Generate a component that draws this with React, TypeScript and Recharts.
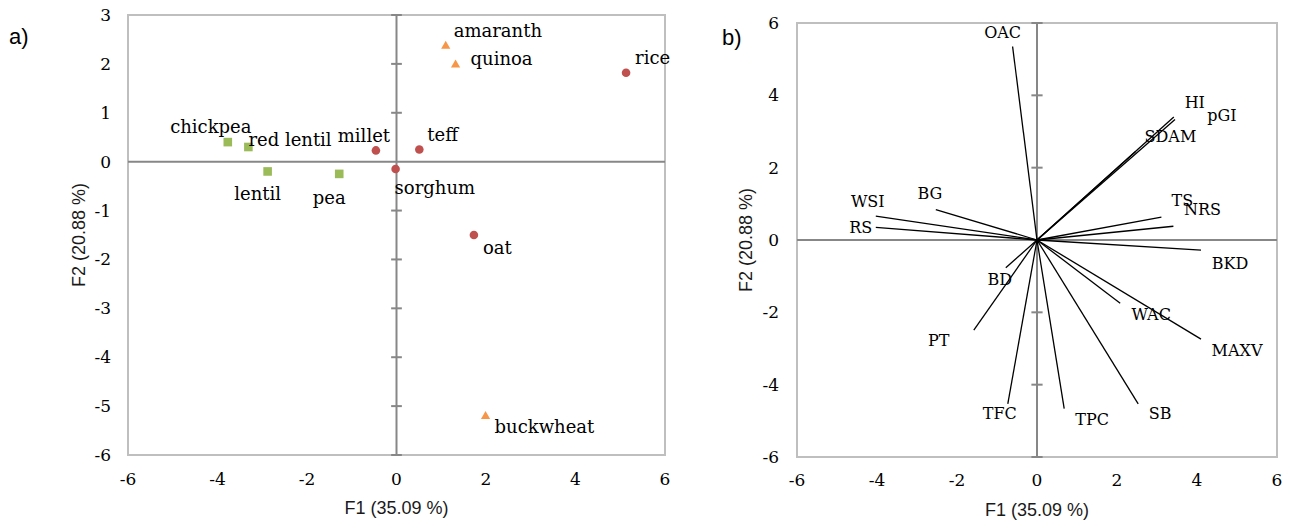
import React from 'react';
import { ScatterChart, Scatter, XAxis, YAxis, ReferenceLine, ReferenceArea } from 'recharts';

// ---------- data ----------
const f1Ticks = [-6, -4, -2, 0, 2, 4, 6];
const scoreF2Ticks = [3, 2, 1, 0, -1, -2, -3, -4, -5, -6];
const loadingF2Ticks = [-6, -4, -2, 0, 2, 4, 6];

const xTitle = 'F1 (35.09 %)';
const yTitle = 'F2 (20.88 %)';

const cereals = [
  { name: 'millet', f1: -0.46, f2: 0.23 },
  { name: 'teff', f1: 0.51, f2: 0.25 },
  { name: 'sorghum', f1: -0.02, f2: -0.15 },
  { name: 'oat', f1: 1.73, f2: -1.5 },
  { name: 'rice', f1: 5.13, f2: 1.82 },
];
const pseudocereals = [
  { name: 'amaranth', f1: 1.1, f2: 2.37 },
  { name: 'quinoa', f1: 1.32, f2: 1.99 },
  { name: 'buckwheat', f1: 1.99, f2: -5.2 },
];
const legumes = [
  { name: 'chickpea', f1: -3.77, f2: 0.4 },
  { name: 'red lentil', f1: -3.31, f2: 0.3 },
  { name: 'lentil', f1: -2.88, f2: -0.2 },
  { name: 'pea', f1: -1.28, f2: -0.25 },
];

const variables = [
  { name: 'OAC', f1: -0.61, f2: 5.35 },
  { name: 'HI', f1: 3.42, f2: 3.4 },
  { name: 'pGI', f1: 3.45, f2: 3.33 },
  { name: 'SDAM', f1: 2.46, f2: 2.44 },
  { name: 'WSI', f1: -4.03, f2: 0.66 },
  { name: 'RS', f1: -4.03, f2: 0.35 },
  { name: 'BG', f1: -2.53, f2: 0.84 },
  { name: 'TS', f1: 3.11, f2: 0.63 },
  { name: 'NRS', f1: 3.41, f2: 0.38 },
  { name: 'BKD', f1: 4.1, f2: -0.28 },
  { name: 'BD', f1: -0.78, f2: -0.77 },
  { name: 'WAC', f1: 2.08, f2: -1.75 },
  { name: 'PT', f1: -1.58, f2: -2.49 },
  { name: 'MAXV', f1: 4.1, f2: -2.74 },
  { name: 'TFC', f1: -0.73, f2: -4.53 },
  { name: 'TPC', f1: 0.68, f2: -4.66 },
  { name: 'SB', f1: 2.53, f2: -4.53 },
];

// ---------- label placement (pixels relative to mark) ----------
type Place = [number, number, 'start' | 'middle' | 'end'];
const scoreLabelPlace: Record<string, Place> = {
  amaranth: [8, -15, 'start'],
  quinoa: [15, -6, 'start'],
  rice: [9, -15, 'start'],
  chickpea: [-17, -15, 'middle'],
  'red lentil': [0, -7, 'start'],
  millet: [-12, -15, 'middle'],
  teff: [8, -15, 'start'],
  lentil: [-10, 22, 'middle'],
  pea: [-10, 24, 'middle'],
  sorghum: [-1, 19, 'start'],
  oat: [9, 13, 'start'],
  buckwheat: [9, 11, 'start'],
};
const loadingLabelPlace: Record<string, Place> = {
  OAC: [-10, -14, 'middle'],
  HI: [21, -15, 'middle'],
  pGI: [47, -4, 'middle'],
  SDAM: [35, -15, 'middle'],
  WSI: [-8, -15, 'middle'],
  RS: [-15, 0, 'middle'],
  BG: [-6, -16, 'middle'],
  TS: [21, -17, 'middle'],
  NRS: [29, -17, 'middle'],
  BKD: [29, 13, 'middle'],
  BD: [-6, 12, 'middle'],
  WAC: [31, 11, 'middle'],
  PT: [-35, 10, 'middle'],
  MAXV: [36, 11, 'middle'],
  TFC: [-8, 10, 'middle'],
  TPC: [28, 11, 'middle'],
  SB: [22, 10, 'middle'],
};

// ---------- styles ----------
const SERIF = "'DejaVu Serif', serif";
const SANS = "'Liberation Sans', Arial, sans-serif";
const BORDER = '#bfbfbf';
const AXIS = '#878787';
const RED = '#c0504d';
const GREEN = '#9bbb59';
const ORANGE = '#f79646';

const pointLabel = (cx: number, cy: number, name: string, place: Place, size: number) => (
  <text
    x={cx + place[0]}
    y={cy + place[1]}
    dy="0.35em"
    textAnchor={place[2]}
    fontFamily={SERIF}
    fontSize={size}
    fill="#000"
  >
    {name}
  </text>
);

const circleShape = (p: any) => (
  <g>
    <circle cx={p.cx} cy={p.cy} r={4.3} fill={RED} />
    {pointLabel(p.cx, p.cy, p.payload.name, scoreLabelPlace[p.payload.name], 18)}
  </g>
);
const squareShape = (p: any) => (
  <g>
    <rect x={p.cx - 4.3} y={p.cy - 4.3} width={8.6} height={8.6} fill={GREEN} />
    {pointLabel(p.cx, p.cy, p.payload.name, scoreLabelPlace[p.payload.name], 18)}
  </g>
);
const triangleShape = (p: any) => (
  <g>
    <path d={`M${p.cx},${p.cy - 5} L${p.cx + 4.6},${p.cy + 3} L${p.cx - 4.6},${p.cy + 3} Z`} fill={ORANGE} />
    {pointLabel(p.cx, p.cy, p.payload.name, scoreLabelPlace[p.payload.name], 18)}
  </g>
);
const loadingLabelShape = (p: any) => (
  <g>{pointLabel(p.cx, p.cy, p.payload.name, loadingLabelPlace[p.payload.name], 16)}</g>
);

const xTick = (off: number) => (p: any) => (
  <text x={p.x} y={p.y + off} dy="0.35em" textAnchor="middle" fontFamily={SERIF} fontSize={17} fill="#000">
    {p.payload.value}
  </text>
);
const yTick = (off: number) => (p: any) => (
  <text x={p.x - off} y={p.y} dy="0.35em" textAnchor="end" fontFamily={SERIF} fontSize={17} fill="#000">
    {p.payload.value}
  </text>
);

const xLabel = (p: any) => {
  const vb = p.viewBox;
  return (
    <text
      x={vb.x + vb.width / 2}
      y={vb.y + 53}
      dy="0.35em"
      textAnchor="middle"
      fontFamily={SANS}
      fontSize={18}
      fill="#1a1a1a"
    >
      {xTitle}
    </text>
  );
};
const yLabel = (cxPos: number) => (p: any) => {
  const vb = p.viewBox;
  const cy = vb.y + vb.height / 2;
  return (
    <text
      x={cxPos}
      y={cy}
      dy="0.35em"
      textAnchor="middle"
      transform={`rotate(-90 ${cxPos} ${cy})`}
      fontFamily={SANS}
      fontSize={18}
      fill="#1a1a1a"
    >
      {yTitle}
    </text>
  );
};

const ScoresChart = () => {
  const half = 0.12;
  return (
    <ScatterChart width={680} height={522} margin={{ top: 15, right: 15, bottom: 7, left: 68 }}>
      <XAxis
        type="number"
        dataKey="f1"
        domain={[-6, 6]}
        ticks={f1Ticks}
        axisLine={false}
        tickLine={false}
        tickSize={0}
        tickMargin={0}
        height={60}
        tick={xTick(24)}
        label={xLabel}
      />
      <YAxis
        type="number"
        dataKey="f2"
        domain={[-6, 3]}
        ticks={scoreF2Ticks}
        axisLine={false}
        tickLine={false}
        tickSize={0}
        tickMargin={0}
        width={60}
        tick={yTick(17)}
        label={yLabel(79)}
      />
      <ReferenceArea x1={-6} x2={6} y1={-6} y2={3} fill="none" stroke={BORDER} strokeWidth={2} />
      <ReferenceLine y={0} stroke={AXIS} strokeWidth={2} />
      <ReferenceLine x={0} stroke={AXIS} strokeWidth={2} />
      {scoreF2Ticks
        .filter((t) => t !== 0)
        .map((t) => (
          <ReferenceLine
            key={t}
            segment={[
              { x: -half, y: t },
              { x: half, y: t },
            ]}
            stroke={AXIS}
            strokeWidth={2}
            ifOverflow="visible"
          />
        ))}
      <Scatter data={legumes} shape={squareShape} isAnimationActive={false} />
      <Scatter data={cereals} shape={circleShape} isAnimationActive={false} />
      <Scatter data={pseudocereals} shape={triangleShape} isAnimationActive={false} />
    </ScatterChart>
  );
};

const LoadingsChart = () => {
  const half = 0.14;
  return (
    <ScatterChart width={609} height={522} margin={{ top: 23, right: 12, bottom: 5, left: 57 }}>
      <XAxis
        type="number"
        dataKey="f1"
        domain={[-6, 6]}
        ticks={f1Ticks}
        axisLine={false}
        tickLine={false}
        tickSize={0}
        tickMargin={0}
        height={60}
        tick={xTick(23)}
        label={xLabel}
      />
      <YAxis
        type="number"
        dataKey="f2"
        domain={[-6, 6]}
        ticks={loadingF2Ticks}
        axisLine={false}
        tickLine={false}
        tickSize={0}
        tickMargin={0}
        width={60}
        tick={yTick(18)}
        label={yLabel(66)}
      />
      <ReferenceArea x1={-6} x2={6} y1={-6} y2={6} fill="none" stroke={BORDER} strokeWidth={2} />
      <ReferenceLine y={0} stroke={AXIS} strokeWidth={2} />
      <ReferenceLine x={0} stroke={AXIS} strokeWidth={2} />
      {loadingF2Ticks
        .filter((t) => t !== 0)
        .map((t) => (
          <ReferenceLine
            key={t}
            segment={[
              { x: -half, y: t },
              { x: half, y: t },
            ]}
            stroke={AXIS}
            strokeWidth={2}
            ifOverflow="visible"
          />
        ))}
      {variables.map((v) => (
        <ReferenceLine
          key={v.name}
          segment={[
            { x: 0, y: 0 },
            { x: v.f1, y: v.f2 },
          ]}
          stroke="#000"
          strokeWidth={1.3}
          ifOverflow="visible"
        />
      ))}
      <Scatter data={variables} shape={loadingLabelShape} isAnimationActive={false} />
    </ScatterChart>
  );
};

const panelLabel: React.CSSProperties = {
  position: 'absolute',
  fontFamily: SANS,
  fontSize: 22,
  lineHeight: '22px',
  color: '#000',
};

export default function App() {
  return (
    <div style={{ position: 'absolute', left: 0, top: 0, width: 1289, height: 522, background: '#fff' }}>
      <div style={{ position: 'absolute', left: 0, top: 0 }}>
        <ScoresChart />
      </div>
      <div style={{ position: 'absolute', left: 680, top: 0 }}>
        <LoadingsChart />
      </div>
      <div style={{ ...panelLabel, left: 9, top: 26 }}>a)</div>
      <div style={{ ...panelLabel, left: 722, top: 27 }}>b)</div>
    </div>
  );
}
